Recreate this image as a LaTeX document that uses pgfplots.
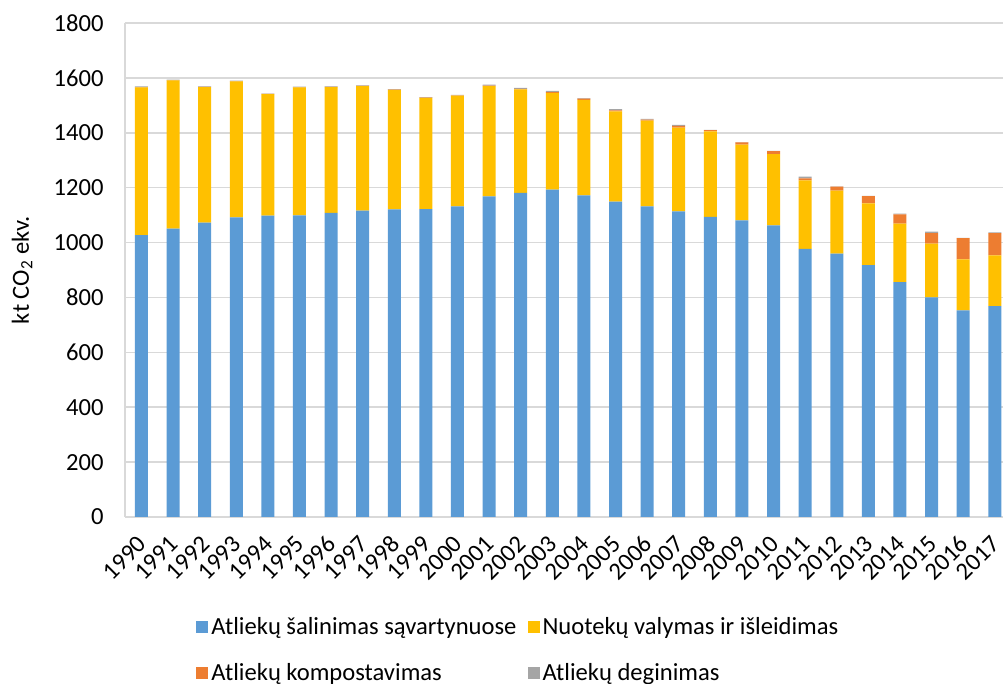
\documentclass[border=0pt]{standalone}
\usepackage{fontspec}
\setmainfont{Carlito}
\usepackage{pgfplots}
\usepackage{pgfplotstable}
\pgfplotsset{compat=1.18}

\definecolor{cBlue}{HTML}{5B9BD5}
\definecolor{cYellow}{HTML}{FFC000}
\definecolor{cOrange}{HTML}{ED7D31}
\definecolor{cGray}{HTML}{A5A5A5}
\definecolor{gridgray}{HTML}{D9D9D9}

% kt CO2 ekv.
\pgfplotstableread{
year land water comp inc
1990 1027 538 1 3
1991 1051 540 1 2
1992 1073 493 1 2
1993 1092 495 1 2
1994 1098 443 1 1
1995 1099 466 1 2
1996 1108 458 1 2
1997 1116 454 1 2
1998 1121 435 1 2
1999 1122 405 1 2
2000 1132 403 1 2
2001 1168 402 2 3
2002 1181 377 2 4
2003 1193 352 3 5
2004 1172 348 4 2
2005 1149 329 4 4
2006 1132 312 4 3
2007 1114 305 6 4
2008 1094 311 5 1
2009 1081 276 8 1
2010 1063 259 11 1
2011 977 250 7 6
2012 960 229 15 1
2013 918 225 26 1
2014 856 213 34 2
2015 800 196 38 6
2016 753 186 77 1
2017 768 185 81 3
}\datatable

\begin{document}
\begin{tikzpicture}
\begin{axis}[
  name=ax,
  at={(0,0)}, anchor=south west,
  scale only axis,
  width=439pt, height=247pt,
  ybar stacked,
  bar width=6.5pt,
  xmin=1989.48, xmax=2017.26,
  ymin=0, ymax=1800,
  ytick={0,200,...,1800},
  xtick=data,
  major tick length=0pt,
  ymajorgrids,
  grid style={gridgray, line width=0.8pt},
  axis line style={gridgray, line width=0.8pt},
  axis x line*=bottom,
  axis y line*=left,
  font=\fontsize{12.3}{14}\selectfont,
  /pgf/number format/assume math mode=true,
  /pgf/number format/1000 sep={},
  yticklabel style={inner sep=0pt, anchor=east, xshift=-10.5pt},
  xticklabel style={inner sep=0pt, xshift=0.5pt, yshift=-11.5pt, rotate=45, anchor=east},
  ylabel={kt CO\textsubscript{2} ekv.},
  every axis y label/.style={at={(axis description cs:-0.1173,0.5)}, rotate=90, anchor=center},
  legend columns=2,
  legend cell align=left,
  legend style={at={(axis description cs:0.0809,-0.196)}, anchor=north west,
    draw=none, fill=none, inner sep=0pt, row sep=10pt,
    /tikz/every even column/.append style={column sep=4pt},
    nodes={inner sep=1.5pt}},
  legend image code/.code={\fill[#1] (0pt,-3pt) rectangle (6pt,3pt);},
]
\addplot[fill=cBlue, draw=none] table[x=year, y=land] {\datatable};
\addlegendentry{Atliekų šalinimas sąvartynuose}
\addplot[fill=cYellow, draw=none] table[x=year, y=water] {\datatable};
\addlegendentry{Nuotekų valymas ir išleidimas}
\addplot[fill=cOrange, draw=none] table[x=year, y=comp] {\datatable};
\addlegendentry{Atliekų kompostavimas}
\addplot[fill=cGray, draw=none] table[x=year, y=inc] {\datatable};
\addlegendentry{Atliekų deginimas}
\end{axis}
\pgfresetboundingbox
\useasboundingbox (ax.south west) ++(-62.5pt,-83.5pt) rectangle ++(501.5pt,342pt);
\end{tikzpicture}
\end{document}
